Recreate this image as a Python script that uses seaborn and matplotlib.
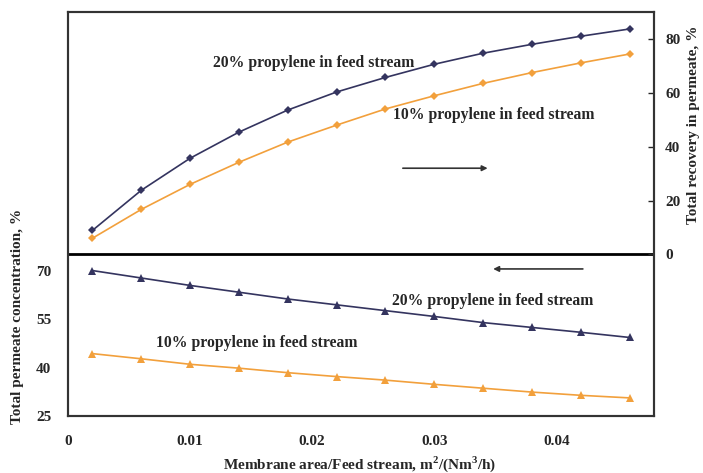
import numpy as np
import pandas as pd
import matplotlib
matplotlib.use("Agg")
import matplotlib.pyplot as plt
import seaborn as sns

# ---- data ----
area = [0.002, 0.006, 0.010, 0.014, 0.018, 0.022, 0.026, 0.030, 0.034, 0.038, 0.042, 0.046]
recovery_20 = [8.9, 23.8, 35.7, 45.4, 53.6, 60.3, 65.7, 70.6, 74.7, 78.0, 81.0, 83.7]
recovery_10 = [6.0, 16.7, 26.0, 34.2, 41.7, 48.0, 54.0, 58.9, 63.5, 67.5, 71.1, 74.4]
conc_20 = [70.0, 67.7, 65.4, 63.3, 61.2, 59.4, 57.6, 55.8, 53.9, 52.4, 50.9, 49.3]
conc_10 = [44.3, 42.7, 41.0, 39.8, 38.4, 37.2, 36.1, 34.8, 33.6, 32.4, 31.4, 30.6]
x_ticks = [0, 0.01, 0.02, 0.03, 0.04]
x_tick_labels = ["0", "0.01", "0.02", "0.03", "0.04"]
left_ticks = [25, 40, 55, 70]
right_ticks = [0, 20, 40, 60, 80]
label_20 = "20% propylene in feed stream"
label_10 = "10% propylene in feed stream"

sns.set_style("white")
plt.rcParams['font.family'] = ['Liberation Serif', 'DejaVu Serif']
plt.rcParams['font.weight'] = 'bold'
plt.rcParams['mathtext.fontset'] = 'custom'
plt.rcParams['mathtext.bf'] = 'Liberation Serif:bold'
plt.rcParams['mathtext.rm'] = 'Liberation Serif:bold'

NAVY = "#34345f"
ORANGE = "#f2a03c"
FS = 11
FA = 11.3

fig = plt.figure(figsize=(7.03, 4.73), dpi=100)
ax = fig.add_axes([68/703, 1-416/473, (654-68)/703, (416-12)/473])
ax2 = ax.twinx()

df_low = pd.DataFrame({"x": area * 2, "y": conc_20 + conc_10,
                       "s": ["20"] * len(area) + ["10"] * len(area)})
df_up = pd.DataFrame({"x": area * 2, "y": recovery_20 + recovery_10,
                      "s": ["20"] * len(area) + ["10"] * len(area)})
pal = {"20": NAVY, "10": ORANGE}

sns.lineplot(data=df_low, x="x", y="y", hue="s", palette=pal, marker="^",
             markersize=6, markeredgewidth=0, linewidth=1.2, ax=ax, legend=False)
sns.lineplot(data=df_up, x="x", y="y", hue="s", palette=pal, marker="D",
             markersize=4.5, markeredgewidth=0, linewidth=1.2, ax=ax2, legend=False)

ax.set_xlim(0, 0.048)
ax.set_ylim(25, 150)
ax2.set_ylim(-60, 90)
ax.axhline(75, color="black", linewidth=2)

ax.set_xticks(x_ticks)
ax.set_xticklabels(x_tick_labels)
ax.set_yticks(left_ticks)
ax2.set_yticks(right_ticks)

for a in (ax, ax2):
    for sp in a.spines.values():
        sp.set_color("#333333")
        sp.set_linewidth(1.5)
ax.tick_params(axis="x", direction="in", length=4, width=1, pad=14, labelsize=FS)
ax.tick_params(axis="y", direction="in", length=0, pad=12, labelsize=FS)
ax2.tick_params(axis="y", direction="in", length=4, width=1, pad=8, labelsize=FS)
for lab in ax.get_xticklabels() + ax.get_yticklabels() + ax2.get_yticklabels():
    lab.set_fontweight("bold")

ax.set_xlabel("")
ax.set_ylabel("")
ax2.set_ylabel("")
fig.text(360/703, 1-464/473, "Membrane area/Feed stream, m$^{2}$/(Nm$^{3}$/h)",
         ha="center", va="center", fontsize=FS, fontweight="bold")
fig.text(18/703, 1-316/473, "Total permeate concentration, %", rotation=90,
         ha="center", va="center", fontsize=FS, fontweight="bold")
fig.text(694/703, 1-125/473, "Total recovery in permeate, %", rotation=90,
         ha="center", va="center", fontsize=FS, fontweight="bold")

# annotations (upper panel: right axis coordinates)
ax2.text(0.0201, 71.1, label_20, ha="center", va="center", fontsize=FA, fontweight="bold")
ax2.text(0.03485, 51.7, label_10, ha="center", va="center", fontsize=FA, fontweight="bold")
ax2.annotate("", xy=(0.0346, 32), xytext=(0.0272, 32),
             arrowprops=dict(arrowstyle="-|>", color="#333333", lw=1.2, mutation_scale=8))
# lower panel: left axis coordinates
ax.text(0.0348, 60.5, label_20, ha="center", va="center", fontsize=FA, fontweight="bold")
ax.text(0.01544, 47.7, label_10, ha="center", va="center", fontsize=FA, fontweight="bold")
ax.annotate("", xy=(0.0346, 70.5), xytext=(0.0424, 70.5),
            arrowprops=dict(arrowstyle="-|>", color="#333333", lw=1.2, mutation_scale=8))

fig.savefig("out.png", dpi=100)
